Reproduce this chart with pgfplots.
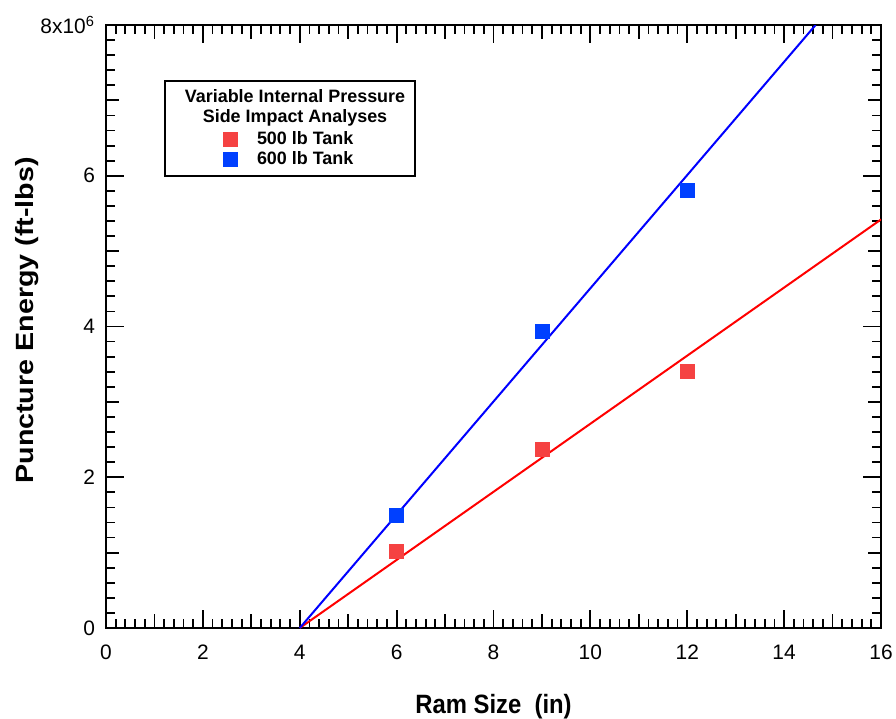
\documentclass[border=0pt]{standalone}
\usepackage{fontspec}
\setmainfont{Liberation Sans}
\usepackage{graphicx}
\usepackage{pgfplots}
\pgfplotsset{compat=1.18}

\definecolor{mred}{RGB}{245,66,66}
\definecolor{mblue}{RGB}{0,64,255}
\definecolor{lred}{RGB}{255,0,0}
\definecolor{lblue}{RGB}{0,0,255}

\newcommand{\tickfont}{\fontsize{10.5}{12}\selectfont}
\newcommand{\legfont}{\bfseries\fontsize{9}{10}\selectfont}

\pgfplotsset{sqmark/.style={only marks, mark=square*, mark size=3.5bp,
  legend image code/.code={\draw[##1] plot coordinates {(0bp,0bp)};}}}

\begin{document}
\begin{tikzpicture}
\useasboundingbox (-53bp,-45.5bp) rectangle (395bp,314bp);
\begin{axis}[
  scale only axis,
  width=387.5bp, height=301.5bp,
  xmin=0, xmax=16, ymin=0, ymax=8e6,
  axis line style={line width=1.2bp},
  every tick/.style={black, line width=0.9bp},
  major tick length=9bp, minor tick length=4.5bp,
  xtick={0,2,...,16},
  xticklabels={0,2,4,6,8,10,12,14,16},
  minor x tick num=9,
  ytick={0,2e6,4e6,6e6,8e6},
  yticklabels={0,2,4,6,8x10\textsuperscript{6}},
  minor y tick num=9,
  scaled y ticks=false,
  extra x ticks={1,3,...,15}, extra x tick labels={},
  extra x tick style={major tick length=7bp},
  extra y ticks={1e6,3e6,5e6,7e6}, extra y tick labels={},
  extra y tick style={major tick length=6.5bp},
  xticklabel style={font=\tickfont, yshift=-5bp},
  yticklabel style={font=\tickfont, xshift=-2bp},
  xlabel={\scalebox{0.9}[1]{Ram Size\ \ (in)}},
  xlabel style={at={(axis description cs:0.5,0)}, anchor=base, yshift=-42.5bp,
    font=\bfseries\fontsize{13.3}{15}\selectfont},
  ylabel={\scalebox{1.15}[1]{Puncture Energy (ft-lbs)}},
  ylabel style={at={(axis description cs:-0.0942,0.51)}, anchor=base,
    font=\bfseries\fontsize{12.5}{14}\selectfont},
  legend style={at={(axis description cs:0.151,0.8275)}, anchor=north west,
    draw=none, fill=none, inner sep=0pt, outer sep=0pt,
    column sep=9.5bp, row sep=0.25bp, font=\legfont,
    nodes={inner sep=0.5bp, text height=7bp, text depth=2bp}},
  legend cell align=left,
]
% fitted lines
\addplot[lred, line width=1bp, forget plot] coordinates {(4,0) (16,5.42e6)};
\addplot[lblue, line width=1bp, forget plot] coordinates {(4,0) (14.65,8e6)};

% analysis results
\addplot[sqmark, color=mred] coordinates {(6,1.02e6) (9,2.37e6) (12,3.40e6)};
\addlegendentry{500 lb Tank}
\addplot[sqmark, color=mblue] coordinates {(6,1.50e6) (9,3.94e6) (12,5.80e6)};
\addlegendentry{600 lb Tank}

\draw[line width=0.9bp] (axis description cs:0.0761,0.7496) rectangle (axis description cs:0.3987,0.9071);
\node[anchor=base, font=\legfont, inner sep=0pt] at (axis description cs:0.2439,0.8723) {Variable Internal Pressure};
\node[anchor=base, font=\legfont, inner sep=0pt] at (axis description cs:0.2439,0.8375) {Side Impact Analyses};
\end{axis}
\end{tikzpicture}
\end{document}
